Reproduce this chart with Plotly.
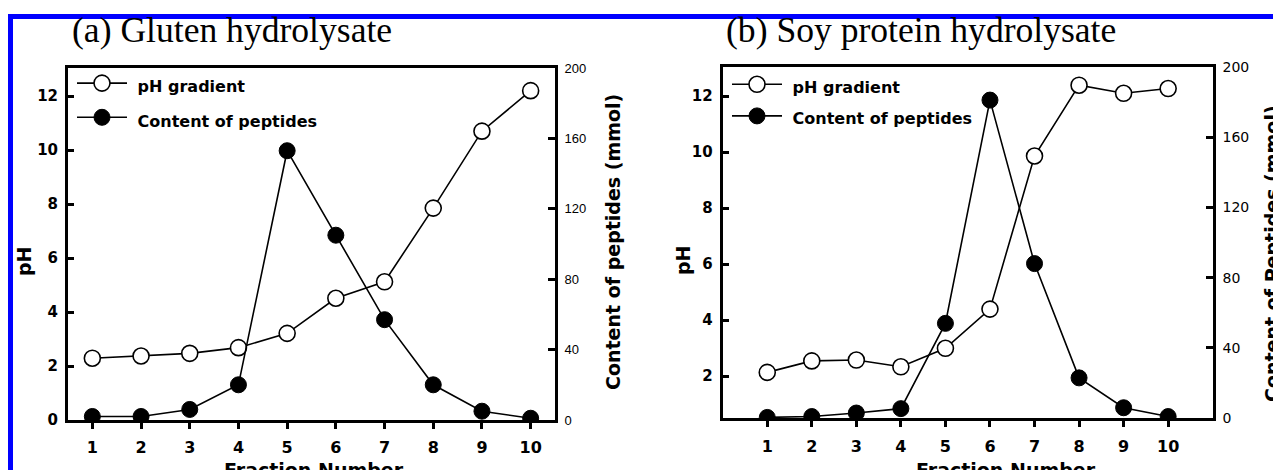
import plotly.graph_objects as go

W, H = 1273, 470

fractions = [1, 2, 3, 4, 5, 6, 7, 8, 9, 10]

# (a) Gluten hydrolysate
gluten_ph = [2.29, 2.37, 2.47, 2.68, 3.21, 4.51, 5.12, 7.85, 10.7, 12.2]
gluten_peptides = [2, 2, 6, 20, 153, 105, 57, 20, 5, 1]

# (b) Soy protein hydrolysate
soy_ph = [2.13, 2.54, 2.57, 2.33, 2.99, 4.39, 9.86, 12.39, 12.1, 12.27]
soy_peptides = [0.5, 1, 3, 5.5, 54, 181, 88, 23, 6, 1]

ph_ticks_a = [0, 2, 4, 6, 8, 10, 12]
ph_ticks_b = [2, 4, 6, 8, 10, 12]
pep_ticks = [0, 40, 80, 120, 160, 200]

BOLD = "DejaVu Sans"

def px(x):
    return x / W

def py(y):
    return (H - y) / H

def leg(t):
    return '<span style="font-size:16px">\u00a0' + t + '</span>'

fig = go.Figure()

open_marker = dict(symbol="circle", size=16, color="white", line=dict(color="black", width=1.6))
fill_marker = dict(symbol="circle", size=16, color="black", line=dict(color="black", width=1))
line_style = dict(color="black", width=1.6)

fig.add_trace(go.Scatter(x=fractions, y=gluten_ph, mode="lines+markers", name=leg("pH gradient"),
                         marker=open_marker, line=line_style, xaxis="x", yaxis="y", legend="legend"))
fig.add_trace(go.Scatter(x=fractions, y=gluten_peptides, mode="lines+markers", name=leg("Content of peptides"),
                         marker=fill_marker, line=line_style, xaxis="x", yaxis="y2", legend="legend"))
fig.add_trace(go.Scatter(x=fractions, y=soy_ph, mode="lines+markers", name=leg("pH gradient"),
                         marker=open_marker, line=line_style, xaxis="x2", yaxis="y3", legend="legend2"))
fig.add_trace(go.Scatter(x=fractions, y=soy_peptides, mode="lines+markers", name=leg("Content of peptides"),
                         marker=fill_marker, line=line_style, xaxis="x2", yaxis="y4", legend="legend2"))

xcommon = dict(tickvals=fractions, ticks="outside", ticklen=6, tickwidth=2.5, tickcolor="black",
               showline=True, linewidth=3, linecolor="black", mirror=True, showgrid=False, zeroline=False,
               automargin=False, ticklabelstandoff=5,
               tickfont=dict(family=BOLD, size=16, color="black", weight="bold"))
yleft = dict(ticks="inside", ticklen=6, tickwidth=2.5, tickcolor="black", showline=True, linewidth=3,
             linecolor="black", showgrid=False, zeroline=False, ticklabelstandoff=4, automargin=False,
             tickfont=dict(family=BOLD, size=15, color="black", weight="bold"))
yright = dict(ticks="inside", ticklen=7, tickwidth=2.5, tickcolor="black", showline=True, linewidth=3,
              linecolor="black", showgrid=False, zeroline=False, side="right", tickvals=pep_ticks,
              range=[0, 200], ticklabelstandoff=4, automargin=False)

xa_dom = [px(68), px(555)]
xb_dom = [px(722.7), px(1212.7)]
ya_dom = [py(420), py(68)]
yb_dom = [py(418.3), py(66.7)]

fig.update_layout(
    width=W, height=H, margin=dict(l=0, r=0, t=0, b=0, autoexpand=False),
    paper_bgcolor="white", plot_bgcolor="white",
    xaxis=dict(xcommon, domain=xa_dom, range=[0.5, 10.5], anchor="y"),
    yaxis=dict(yleft, domain=ya_dom, range=[0, 13.04], tickvals=ph_ticks_a, anchor="x"),
    yaxis2=dict(yright, domain=ya_dom, overlaying="y", anchor="x",
                tickfont=dict(family="Liberation Sans, Arial", size=13, color="black")),
    xaxis2=dict(xcommon, domain=xb_dom, range=[0, 11], anchor="y3"),
    yaxis3=dict(yleft, domain=yb_dom, range=[0.49, 13.05], tickvals=ph_ticks_b, anchor="x2"),
    yaxis4=dict(yright, domain=yb_dom, overlaying="y3", anchor="x2",
                tickfont=dict(family="DejaVu Sans", size=14, color="black")),
    legend=dict(x=px(72), y=py(61), xanchor="left", yanchor="top", bgcolor="rgba(0,0,0,0)",
                borderwidth=0, itemwidth=50, tracegroupgap=0,
                font=dict(family=BOLD, size=24, color="black", weight="bold")),
    legend2=dict(x=px(727), y=py(63.5), xanchor="left", yanchor="top", bgcolor="rgba(0,0,0,0)",
                 borderwidth=0, itemwidth=50, tracegroupgap=0,
                 font=dict(family=BOLD, size=22, color="black", weight="bold")),
    showlegend=True,
)

ann = []
serif = "Liberation Serif, Times New Roman, serif"
ann.append(dict(text="(a) Gluten hydrolysate", x=px(71), y=py(30), xanchor="left", yanchor="middle",
                font=dict(family=serif, size=35.6, color="black")))
ann.append(dict(text="(b) Soy protein hydrolysate", x=px(725), y=py(30), xanchor="left", yanchor="middle",
                font=dict(family=serif, size=35.6, color="black")))
tfont = dict(family=BOLD, size=19, color="black", weight="bold")
ann.append(dict(text="pH", x=px(24), y=py(261), textangle=-90, xanchor="center", yanchor="middle", font=tfont))
ann.append(dict(text="pH", x=px(683), y=py(260), textangle=-90, xanchor="center", yanchor="middle", font=tfont))
ann.append(dict(text="Content of peptides (mmol)", x=px(613), y=py(242), textangle=-90,
                xanchor="center", yanchor="middle", font=tfont))
ann.append(dict(text="Content of Peptides (mmol)", x=px(1272), y=py(254), textangle=-90,
                xanchor="center", yanchor="middle", font=tfont))
ann.append(dict(text="Fraction Number", x=px(314), y=py(458), xanchor="center", yanchor="top", font=tfont))
ann.append(dict(text="Fraction Number", x=px(1006), y=py(458), xanchor="center", yanchor="top", font=tfont))
for a in ann:
    a.update(xref="paper", yref="paper", showarrow=False, borderpad=0)
fig.update_layout(annotations=ann)

blue = "#0000ff"
fig.update_layout(shapes=[
    dict(type="rect", xref="paper", yref="paper", x0=px(8), x1=1.0, y0=py(19), y1=py(14),
         fillcolor=blue, line=dict(width=0), layer="above"),
    dict(type="rect", xref="paper", yref="paper", x0=px(8), x1=px(13), y0=0, y1=py(14),
         fillcolor=blue, line=dict(width=0), layer="above"),
])

fig.write_html("out.html", config={"displayModeBar": False},
               post_script="document.body.style.margin='0';document.body.style.padding='0';"
                           "document.documentElement.style.overflow='hidden';")
